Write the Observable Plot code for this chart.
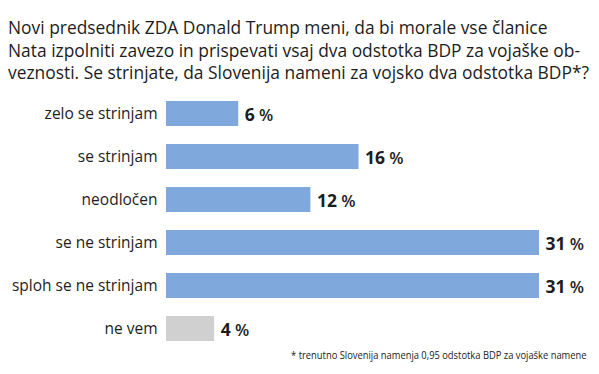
<!DOCTYPE html>
<html>
<head>
<meta charset="utf-8">
<script src="https://cdn.jsdelivr.net/npm/d3@7"></script>
<script src="https://cdn.jsdelivr.net/npm/@observablehq/plot@0.6"></script>
<style>
  html, body { margin: 0; padding: 0; background: #fff; }
  #wrap { position: relative; width: 599px; height: 374px; overflow: hidden; font-family: "Open Sans", sans-serif; color: #1d1d1d; }
  #title { position: absolute; left: 8px; top: 16px; font-size: 17.4px; line-height: 22.5px; white-space: nowrap; }
  #note { position: absolute; right: 13px; top: 347px; font-family: "Open Sans", sans-serif; font-size: 11px; color: #222; white-space: nowrap; transform: scaleX(0.85); transform-origin: right center; }
  #chart { position: absolute; left: 0; top: 0; }
</style>
</head>
<body>
<div id="wrap">
  <div id="chart"></div>
  <div id="title"></div>
  <div id="note"></div>
</div>
<script>
const titleLines = [
  "Novi predsednik ZDA Donald Trump meni, da bi morale vse članice",
  "Nata izpolniti zavezo in prispevati vsaj dva odstotka BDP za vojaške ob-",
  "veznosti. Se strinjate, da Slovenija nameni za vojsko dva odstotka BDP*?"
];
const footnote = "* trenutno Slovenija namenja 0,95 odstotka BDP za vojaške namene";
const categories = ["zelo se strinjam", "se strinjam", "neodločen", "se ne strinjam", "sploh se ne strinjam", "ne vem"];
const values = [6, 16, 12, 31, 31, 4];
const kinds = ["answer", "answer", "answer", "answer", "answer", "unknown"];

const data = categories.map((c, i) => ({category: c, value: values[i], kind: kinds[i]}));

document.getElementById("title").innerHTML = titleLines.map(l => `<div>${l}</div>`).join("");
document.getElementById("note").textContent = footnote;

const plot = Plot.plot({
  width: 599,
  height: 374,
  marginTop: 82,
  marginBottom: 13,
  marginLeft: 166,
  marginRight: 60,
  style: {fontFamily: "Open Sans, sans-serif", fontSize: "15px", color: "#1d1d1d", background: "transparent"},
  x: {domain: [0, 31], axis: null},
  y: {domain: categories, padding: 0.41, label: null},
  color: {domain: ["answer", "unknown"], range: ["#7fa9dc", "#d0d0d0"]},
  marks: [
    Plot.barX(data, {x: "value", y: "category", fill: "kind"}),
    Plot.axisY({tickSize: 0, tickPadding: 9, fontSize: 15.5, label: null}),
    Plot.text(data, {x: "value", y: "category", text: d => `${d.value} %`, textAnchor: "start", dx: 6, dy: 1, fontSize: 17.5, fill: "#1d1d1d", className: "vals"})
  ]
});
document.getElementById("chart").appendChild(plot);

// split value labels into bold number + lighter percent sign
d3.select(plot).selectAll("g.vals text").each(function() {
  const t = d3.select(this);
  const s = t.text();
  const [num, pct] = s.split(" ");
  t.text(null);
  t.append("tspan").attr("font-weight", 700).text(num);
  t.append("tspan").attr("font-weight", 600).attr("font-size", "16.5px").text(" " + pct);
});
</script>
</body>
</html>
